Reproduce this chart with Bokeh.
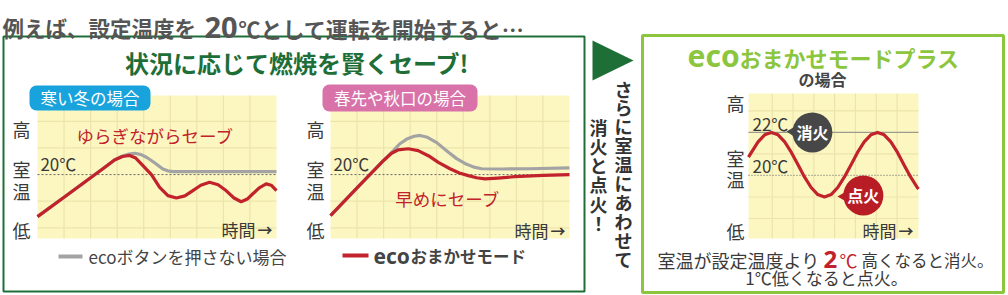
from bokeh.plotting import figure
from bokeh.models import Range1d
from bokeh.core.properties import value
from bokeh.embed import file_html
from bokeh.resources import INLINE

# ---------------- data ----------------
SET_TEMP = 20
OFF_TEMP = 22
# chart 1 : cold winter (x = time in grid units, y = room temp)
c1_red_x = [0, 1.0, 2.0, 2.5, 2.9, 3.2, 3.47, 3.7, 3.97, 4.29, 4.6, 4.91, 5.23, 5.55, 5.85, 6.15, 6.48, 6.8, 7.1, 7.4, 7.67, 7.9, 8.1, 8.35, 8.61, 8.8, 9.0]
c1_red_y = [18.42, 19.15, 19.88, 20.25, 20.55, 20.68, 20.72, 20.62, 20.34, 20.0, 19.52, 19.21, 19.12, 19.2, 19.4, 19.6, 19.71, 19.62, 19.4, 19.12, 18.98, 19.08, 19.27, 19.5, 19.65, 19.6, 19.4]
c1_gray_x = [0, 1.0, 2.0, 2.5, 2.9, 3.2, 3.45, 3.66, 3.9, 4.1, 4.3, 4.47, 4.72, 4.9, 5.1, 6.0, 7.0, 8.0, 9.0]
c1_gray_y = [18.42, 19.15, 19.88, 20.25, 20.55, 20.7, 20.77, 20.8, 20.75, 20.65, 20.52, 20.4, 20.21, 20.14, 20.11, 20.11, 20.11, 20.11, 20.11]
# chart 2 : early spring / autumn
c2_red_x = [0, 1.0, 2.0, 2.3, 2.55, 2.93, 3.3, 3.7, 4.06, 4.5, 4.85, 5.19, 5.5, 5.82, 6.3, 6.94, 8.0, 9.0]
c2_red_y = [18.46, 19.5, 20.53, 20.8, 20.93, 20.97, 20.9, 20.7, 20.46, 20.22, 20.06, 19.96, 19.88, 19.84, 19.87, 19.92, 19.97, 20.0]
c2_gray_x = [0, 1.0, 2.0, 2.37, 2.6, 2.9, 3.15, 3.37, 3.65, 4.0, 4.44, 4.75, 5.06, 5.4, 5.69, 6.5, 7.5, 9.0]
c2_gray_y = [18.46, 19.5, 20.53, 20.9, 21.15, 21.35, 21.44, 21.47, 21.4, 21.2, 20.84, 20.6, 20.42, 20.28, 20.22, 20.21, 20.22, 20.25]
# chart 3 : eco mode plus
c3_x = [-0.14, 0.0, 0.32, 0.64, 0.96, 1.28, 1.6, 1.92, 2.24, 2.55, 2.87, 3.19, 3.51, 3.83, 4.15, 4.47, 4.79, 5.1, 5.42, 5.74, 6.06, 6.38, 6.7, 7.02, 7.33, 7.65, 7.97, 8.03]
c3_y = [20.85, 21.07, 21.56, 21.89, 22.0, 21.89, 21.56, 21.07, 20.5, 19.93, 19.44, 19.11, 19.0, 19.11, 19.44, 19.93, 20.5, 21.07, 21.56, 21.89, 22.0, 21.89, 21.56, 21.07, 20.5, 19.93, 19.44, 19.37]
bubble_x = [2.93, 5.38]
bubble_y = [22.0, 19.07]
bubble_labels = ["消火", "点火"]
grid12_x = [1, 2, 3, 4, 5, 6, 7, 8]
grid12_y = [18, 19, 21, 22]
grid3_x = [1, 2, 3, 4, 5, 6, 7]
grid3_y = [18, 19, 21, 23]
ylabels = ["高", "室", "温", "低"]

JP = "Noto Sans CJK JP"
LAT = "Noto Sans"
RED = "#c1222b"
GRAY = "#a3a3a3"
DKGREEN = "#1d6e37"
LIME = "#8cc63f"
TXT = "#3a3a3a"
YEL = "#fcf7c1"
GRID = "#ece4aa"

p = figure(width=1008, height=295, x_range=Range1d(0, 1008), y_range=Range1d(295, 0),
           output_backend="svg", toolbar_location=None, x_axis_location=None,
           y_axis_location=None, min_border=0)
p.grid.visible = False
p.outline_line_color = None
p.background_fill_color = "white"
p.border_fill_color = "white"


def txt(t, x, y, s, size, color=TXT, align="left", baseline="middle", bold=False, font=JP):
    t.text(x=[x], y=[y], text=[s], text_font=value(font), text_font_size=f"{size}px",
           text_color=color, text_align=align, text_baseline=baseline,
           text_font_style="bold" if bold else "normal")


def timelabel(t, xr, y):
    txt(t, xr - 17, y, "時間", 17, align="right")
    txt(t, xr, y, "→", 15, align="right", bold=True)


# ---- frames ----
p.quad(left=[3], right=[584], top=[36], bottom=[291], fill_color="white", line_color=DKGREEN, line_width=2)
p.quad(left=[642], right=[1003], top=[35], bottom=[292], fill_color="white", line_color=LIME, line_width=3)

# ---- headline ----
txt(p, 2, 27, "例えば、設定温度を", 21.5, color="#555555", baseline="alphabetic", bold=True)
txt(p, 204, 27, "20", 29, color="#555555", baseline="alphabetic", bold=True, font=LAT)
txt(p, 238, 27, "℃として運転を開始すると…", 22, color="#555555", baseline="alphabetic", bold=True)
txt(p, 297, 62, "状況に応じて燃焼を賢くセーブ!", 24, color=DKGREEN, align="center", bold=True)


def chart(xs, ys, xt, yt, gx, gy):
    s = p.subplot(x_source=Range1d(*xs), y_source=Range1d(*ys),
                  x_target=Range1d(*xt), y_target=Range1d(*yt))
    s.quad(left=[xs[0]], right=[xs[1]], bottom=[ys[0]], top=[ys[1]], fill_color=YEL, line_color=None)
    s.segment(x0=gx, x1=gx, y0=[ys[0]] * len(gx), y1=[ys[1]] * len(gx), line_color=GRID, line_width=1.2)
    s.segment(x0=[xs[0]] * len(gy), x1=[xs[1]] * len(gy), y0=gy, y1=gy, line_color=GRID, line_width=1.2)
    return s


# ---- chart 1 ----
s1 = chart((0, 9), (17.6, 22.97), (37, 276), (238, 95), grid12_x, grid12_y)
s1.segment(x0=[0], x1=[9], y0=[SET_TEMP], y1=[SET_TEMP], line_color="#666666", line_dash="2 2", line_width=1)
s1.line(c1_gray_x, c1_gray_y, line_color=GRAY, line_width=3.2, line_join="round")
s1.line(c1_red_x, c1_red_y, line_color=RED, line_width=3.2, line_join="round")
txt(s1, 0.11, 20.41, "20℃", 17)
txt(s1, 1.47, 21.47, "ゆらぎながらセーブ", 17.5, color=RED)

# ---- chart 2 ----
s2 = chart((0, 9), (17.6, 22.97), (330, 569), (238, 95), grid12_x, grid12_y)
s2.segment(x0=[0], x1=[9], y0=[SET_TEMP], y1=[SET_TEMP], line_color="#666666", line_dash="2 2", line_width=1)
s2.line(c2_gray_x, c2_gray_y, line_color=GRAY, line_width=3.2, line_join="round")
s2.line(c2_red_x, c2_red_y, line_color=RED, line_width=3.2, line_join="round")
txt(s2, 0.11, 20.41, "20℃", 17)
txt(s2, 2.44, 19.1, "早めにセーブ", 17.5, color=RED)

# ---- tags ----
p.quad(left=[29], right=[150], top=[85], bottom=[110], fill_color="#19a3dc", line_color=None, border_radius=7)
txt(p, 89.5, 97.5, "寒い冬の場合", 16.5, color="white", align="center")
p.quad(left=[322], right=[477], top=[84], bottom=[111], fill_color="#d872a9", line_color=None, border_radius=7)
txt(p, 399.5, 97.5, "春先や秋口の場合", 16.5, color="white", align="center")

# ---- y labels ----
for xc in (21, 315):
    for lab, yy in zip(ylabels, (128, 168, 190, 229)):
        txt(p, xc, yy, lab, 18, align="center")
for lab, yy in zip(ylabels, (102, 157, 178, 230)):
    txt(p, 735, yy, lab, 18, align="center")

# ---- legends ----
p.segment(x0=[58], x1=[82], y0=[256], y1=[256], line_color=GRAY, line_width=4)
txt(p, 88, 256, "ecoボタンを押さない場合", 17, color="#444444")
p.segment(x0=[342], x1=[368], y0=[255], y1=[255], line_color=RED, line_width=4)
txt(p, 373, 255, "eco", 21, color="#444444", bold=True, font=LAT)
txt(p, 410, 255, "おまかせモード", 16.5, color="#444444", bold=True)

# ---- middle arrow and vertical text ----
p.patch([592, 592, 633], [40, 80, 60], fill_color=DKGREEN, line_color=None)
for i, ch in enumerate("さらに室温にあわせて"):
    txt(p, 623, 88 + i * 18.9, ch, 18, color="#333333", align="center", bold=True)
for i, ch in enumerate("消火と点火！"):
    txt(p, 598, 126 + i * 19.3, ch, 18, color="#333333", align="center", bold=True)

# ---- right panel ----
txt(p, 687, 55, "eco", 30, color=LIME, bold=True, font=LAT)
txt(p, 739, 56, "おまかせモードプラス", 22, color=LIME, bold=True)
txt(p, 822, 78, "の場合", 16, color="#444444", align="center", bold=True)

s3 = chart((-0.14, 8.03), (17.07, 23.81), (748, 918), (238, 93), grid3_x, grid3_y)
s3.segment(x0=[-0.14], x1=[8.03], y0=[OFF_TEMP], y1=[OFF_TEMP], line_color="#9c9c8c", line_width=1.2)
s3.segment(x0=[-0.14], x1=[8.03], y0=[SET_TEMP], y1=[SET_TEMP], line_color="#777777", line_dash="1 2", line_width=1.2)
s3.line(c3_x, c3_y, line_color=RED, line_width=3.2, line_join="round")
txt(s3, 0.05, 22.42, "22℃", 17)
txt(s3, 0.05, 20.47, "20℃", 17)

# overlay layer (drawn after all chart backgrounds)
top = p.subplot(x_source=Range1d(0, 1008), y_source=Range1d(295, 0),
                x_target=Range1d(0, 1008), y_target=Range1d(295, 0))
timelabel(top, 272, 229)
timelabel(top, 565, 230)
timelabel(top, 913, 230)
top.patch([786, 798, 798], [131, 124, 139], fill_color="#474747", line_color=None)
top.patch([837, 849, 849], [196, 189, 203], fill_color="#b81d25", line_color=None)
s3.scatter(bubble_x, bubble_y, size=40, marker="circle", fill_color=["#474747", "#b81d25"], line_color=None)
s3.text(x=bubble_x, y=bubble_y, text=bubble_labels, text_font=value(JP), text_font_size="16px",
        text_color="white", text_align="center", text_baseline="middle", text_font_style="bold")

txt(p, 657, 259, "室温が設定温度より", 18)
txt(p, 823, 259, "2", 24, color=RED, bold=True, font=LAT)
txt(p, 839, 259, "℃", 18, color=RED)
txt(p, 861, 259, "高くなると消火。", 16.5)
txt(p, 826, 277, "1℃低くなると点火。", 17, align="center")

open("out.html", "w").write(file_html(p, INLINE))
